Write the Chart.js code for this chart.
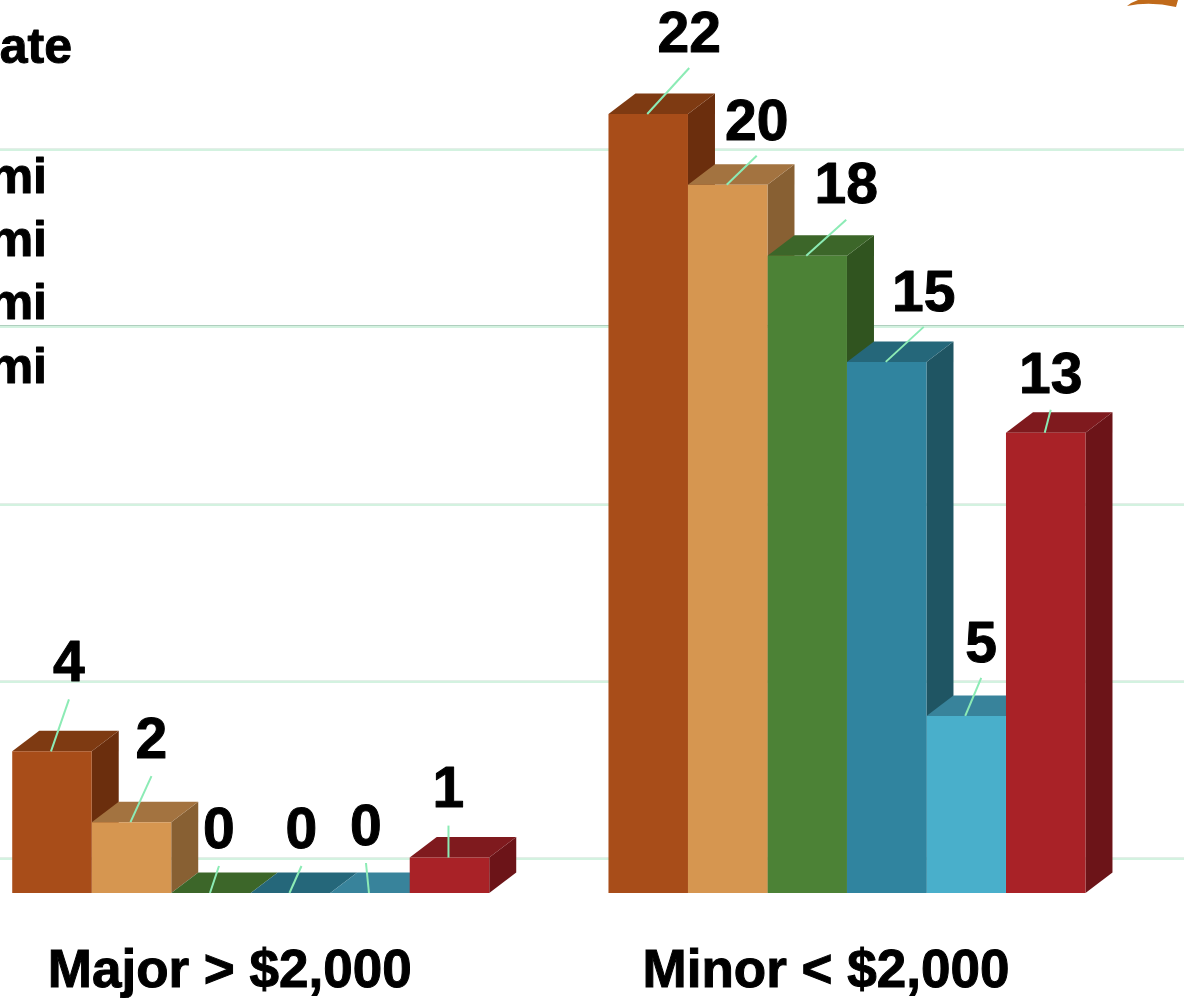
<!DOCTYPE html>
<html>
<head>
<meta charset="utf-8">
<style>
  html, body { margin: 0; padding: 0; background: #fff; overflow: hidden; }
  #wrap { position: relative; width: 1184px; height: 998px; overflow: hidden; }
  #chart { position: absolute; left: -60px; top: 0; }
</style>
<script src="https://cdn.jsdelivr.net/npm/chart.js@4"></script>
</head>
<body>
<div id="wrap"><canvas id="chart" width="1300" height="998"></canvas></div>
<script>
// Datos
const categories = ["Major > $2,000", "Minor < $2,000"];
const series1 = [4, 22];
const series2 = [2, 20];
const series3 = [0, 18];
const series4 = [0, 15];
const series5 = [0, 5];
const series6 = [1, 13];
const gridValues = [1, 6, 11, 16, 21];
const sideTexts = ["ate", "mi", "mi", "mi", "mi"];

// Colores: frente, tapa, lateral
const frontColors = ["#A84D19", "#D69650", "#4C8236", "#30849F", "#49AFCB", "#A92227"];
const topColors = ["#7E3A12", "#A37340", "#3C6629", "#25677A", "#38839B", "#7F1A1E"];
const sideColors = ["#6B2E0D", "#886033", "#30541F", "#1F5563", "#2F7F96", "#6C1418"];

const canvasOffset = 60;
const depthX = 27;
const depthY = 20.5;

// Fin de cada linea guia respecto a la parte de arriba de la barra [dx, dy], por serie y categoria
const leaderEnds = [
  [[17, -52], [41, -46]],
  [[20, -46], [29, -29]],
  [[8, -27], [39, -36]],
  [[11, -27], [37, -35]],
  [[-4, -30], [15, -38]],
  [[-1, -32], [5, -23]]
];
const labelLift = [34, 32];

const depthPlugin = {
  id: "depth",
  beforeDatasetsDraw(chart) {
    const ctx = chart.ctx;
    const y = chart.scales.y;
    ctx.save();
    // lineas de fondo hasta el borde
    gridValues.forEach(v => {
      const py = Math.round(y.getPixelForValue(v));
      ctx.fillStyle = "#D3F2E0";
      ctx.fillRect(0, py - 1, chart.width, 3);
      ctx.fillStyle = v === 16 ? "#AFCFBE" : "#E4EEE8";
      ctx.fillRect(0, py - 1, chart.width, 1);
    });
    // tapas y laterales, de izquierda a derecha
    chart.data.datasets.forEach((ds, i) => {
      chart.getDatasetMeta(i).data.forEach(bar => {
        const left = bar.x - bar.width / 2;
        const right = bar.x + bar.width / 2;
        const top = bar.y;
        const bottom = bar.base;
        ctx.fillStyle = sideColors[i];
        ctx.beginPath();
        ctx.moveTo(right, top);
        ctx.lineTo(right + depthX, top - depthY);
        ctx.lineTo(right + depthX, bottom - depthY);
        ctx.lineTo(right, bottom);
        ctx.closePath();
        ctx.fill();
        ctx.fillStyle = topColors[i];
        ctx.beginPath();
        ctx.moveTo(left, top);
        ctx.lineTo(left + depthX, top - depthY);
        ctx.lineTo(right + depthX, top - depthY);
        ctx.lineTo(right, top);
        ctx.closePath();
        ctx.fill();
      });
    });
    ctx.restore();
  },
  afterDatasetsDraw(chart) {
    const ctx = chart.ctx;
    ctx.save();
    ctx.textAlign = "center";
    ctx.textBaseline = "middle";
    ctx.font = "bold 57px 'Liberation Sans'";
    ctx.lineJoin = "round";
    ctx.strokeStyle = "#000";
    chart.data.datasets.forEach((ds, i) => {
      chart.getDatasetMeta(i).data.forEach((bar, c) => {
        const sx = bar.x - 1;
        const sy = bar.y;
        const ex = bar.x + leaderEnds[i][c][0];
        const ey = bar.y + leaderEnds[i][c][1];
        ctx.strokeStyle = "#8CEBB5";
        ctx.lineWidth = 2;
        ctx.beginPath();
        ctx.moveTo(sx, sy);
        ctx.lineTo(ex, ey);
        ctx.stroke();
        ctx.fillStyle = "#000";
        ctx.strokeStyle = "#000";
        ctx.lineWidth = 1;
        ctx.fillText(ds.data[c], ex, ey - labelLift[c]);
        ctx.strokeText(ds.data[c], ex, ey - labelLift[c]);
      });
    });
    // leyenda cortada por el borde izquierdo
    ctx.textAlign = "right";
    ctx.font = "bold 50px 'Liberation Sans'";
    ctx.fillText(sideTexts[0], canvasOffset + 72, 49);
    ctx.strokeText(sideTexts[0], canvasOffset + 72, 49);
    [179, 242, 305, 369].forEach((py, i) => {
      ctx.fillText(sideTexts[i + 1], canvasOffset + 47, py);
      ctx.strokeText(sideTexts[i + 1], canvasOffset + 47, py);
    });
    // trozo de logo arriba a la derecha
    ctx.fillStyle = "#C06A1A";
    ctx.beginPath();
    ctx.moveTo(canvasOffset + 1127, 6);
    ctx.quadraticCurveTo(canvasOffset + 1132, 2, canvasOffset + 1138, 0);
    ctx.lineTo(canvasOffset + 1178, 0);
    ctx.lineTo(canvasOffset + 1176, 7);
    ctx.quadraticCurveTo(canvasOffset + 1150, 1, canvasOffset + 1127, 6);
    ctx.closePath();
    ctx.fill();
    ctx.restore();
  }
};

const allSeries = [series1, series2, series3, series4, series5, series6];

new Chart(document.getElementById("chart").getContext("2d"), {
  type: "bar",
  data: {
    labels: categories,
    datasets: allSeries.map((values, i) => ({
      data: values,
      backgroundColor: frontColors[i],
      borderWidth: 0,
      categoryPercentage: 0.8,
      barPercentage: 1
    }))
  },
  options: {
    responsive: false,
    animation: false,
    devicePixelRatio: 1,
    layout: { padding: { left: 12.6, right: 94.9, top: 7.8, bottom: 0 } },
    plugins: { legend: { display: false }, tooltip: { enabled: false } },
    scales: {
      x: {
        grid: { display: false, drawTicks: false },
        border: { display: false },
        afterFit(scale) { scale.height = 105; },
        ticks: {
          color: "#000",
          font: { family: "'Liberation Sans'", size: 53, weight: "bold" },
          padding: 48,
          labelOffset: -21,
          maxRotation: 0,
          autoSkip: false,
          textStrokeColor: "#000",
          textStrokeWidth: 1
        }
      },
      y: { display: false, min: 0, max: 25 }
    }
  },
  plugins: [depthPlugin]
});
</script>
</body>
</html>
